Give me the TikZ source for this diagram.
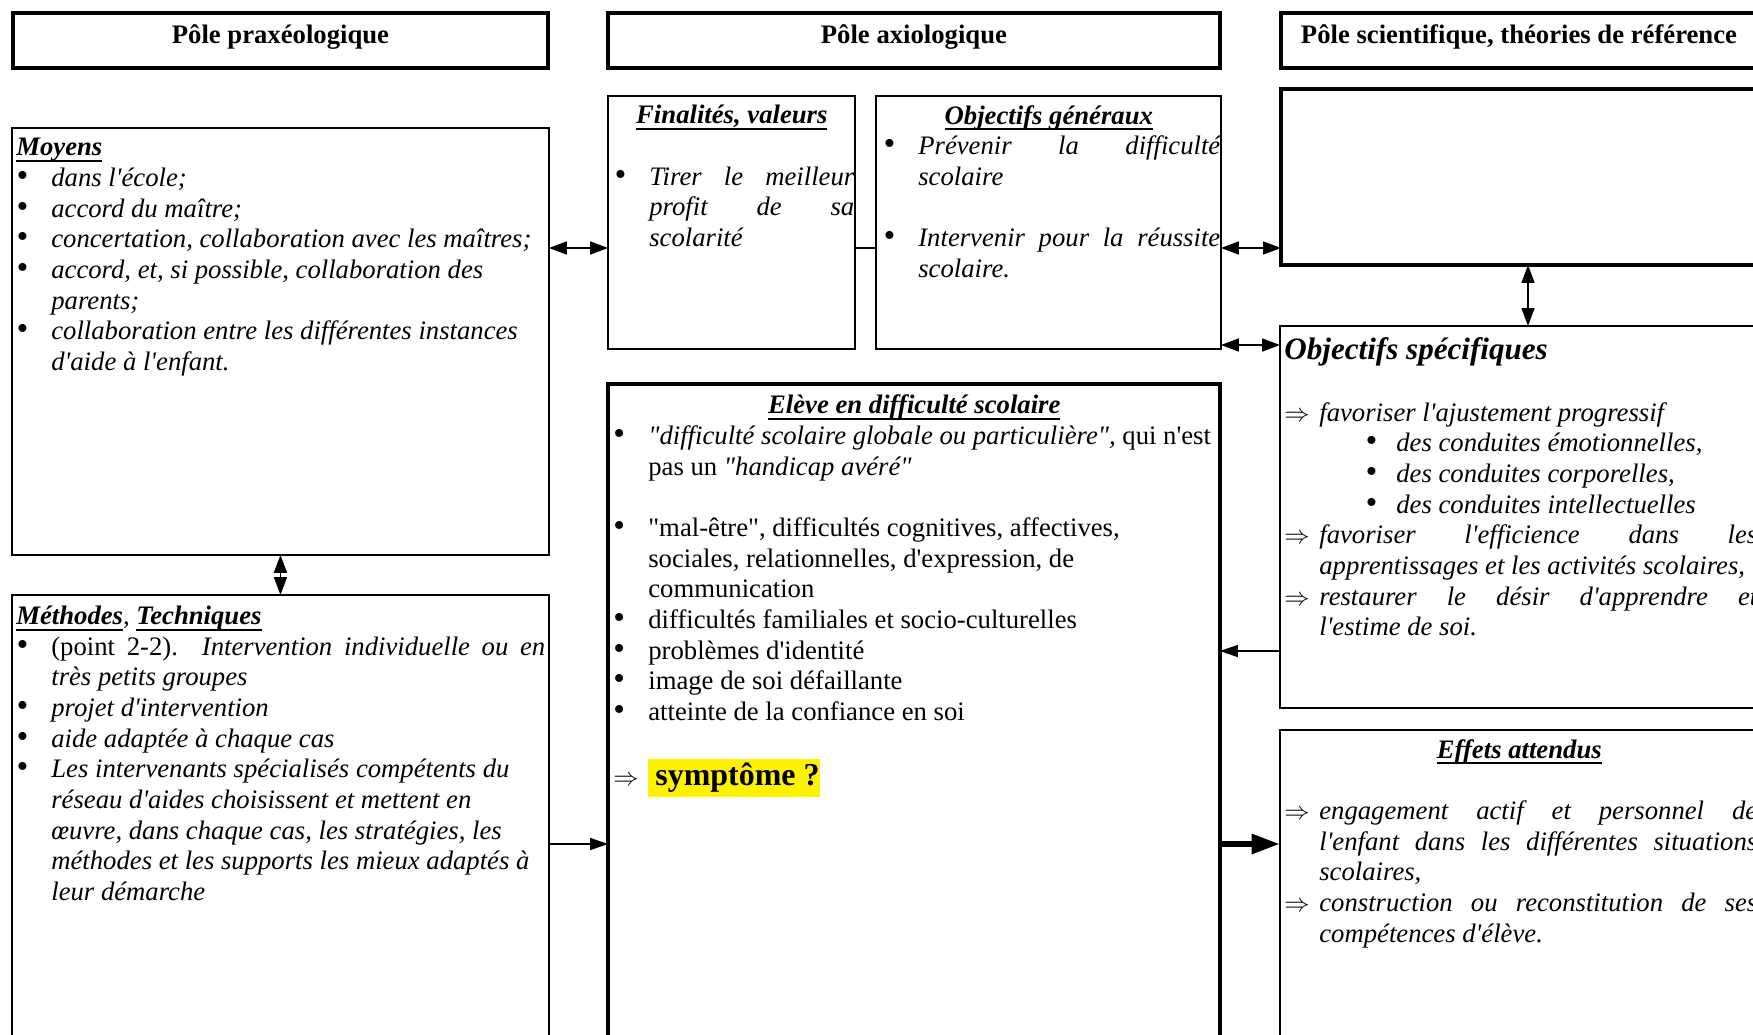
\documentclass[tikz,border=0pt]{standalone}
\usepackage{fontspec}
\setmainfont{Liberation Serif}[Ligatures=TeXOff]
\usetikzlibrary{arrows.meta, positioning}

\newcommand{\normsz}{\fontsize{15.19pt}{17.47pt}\selectfont}
\newlength{\bulw}
\setlength{\bulw}{0.7cm}
\newsavebox{\ttlbox}
\newcommand{\bigbul}{{\fontsize{19pt}{17.47pt}\selectfont\textbullet}}
\newcommand{\itbul}{\makebox[\bulw][l]{\bigbul}}
\newcommand{\itarr}{\makebox[\bulw][l]{$\Rightarrow$}}
\newcommand{\itind}{\hspace*{\bulw}}
\newcommand{\subbul}{\hspace*{0.92cm}\makebox[0.62cm][l]{\bigbul}}
\newcommand{\jline}[2]{\makebox[#1][s]{#2}}
\newcommand{\uttl}[1]{\sbox{\ttlbox}{\textbf{\textit{#1}}}\rlap{\rule[-3.5pt]{\wd\ttlbox}{1.1pt}}\usebox{\ttlbox}}
\newcommand{\hlbox}[1]{{\setlength{\fboxsep}{0pt}\colorbox{yellow}{#1}}}

\begin{document}
\begin{tikzpicture}[x=0.02cm, y=-0.02cm, font=\normsz,
  pole/.style={rectangle, draw, line width=2.3pt, anchor=north west, outer sep=0pt, inner sep=0pt,
    minimum height=1.1cm, text height=0.61cm, text depth=0.49cm, font=\normsz\bfseries},
  box/.style={rectangle, draw, line width=1.1pt, anchor=north west, outer sep=0pt},
  thickbox/.style={box, line width=2.3pt},
  txt/.style={inner sep=0pt, align=left, execute at begin node=\strut},
  dbl/.style={{Triangle[length=0.36cm, width=0.26cm]}-{Triangle[length=0.36cm, width=0.26cm]}, line width=0.9pt},
  arrow/.style={-{Triangle[length=0.36cm, width=0.24cm]}, line width=0.9pt},
  bigarrow/.style={-{Triangle[length=0.57cm, width=0.38cm]}, line width=3.4pt}
]
\useasboundingbox (0,0) rectangle (1753,1034);
\clip (0,0) rectangle (1753,1034);

\node[pole, minimum width=10.70cm] (pp) at (13,13) {Pôle praxéologique};
\node[pole, minimum width=12.24cm] (pa) at (608,13) {Pôle axiologique};
\node[pole, minimum width=9.52cm] (ps) at (1281,13) {Pôle scientifique, théories de référence};

\node[box, minimum width=10.74cm, minimum height=8.54cm] (moy) at (12,128) {};
\node[box, minimum width=4.94cm, minimum height=5.06cm] (fin) at (608,96) {};
\node[box, minimum width=6.90cm, minimum height=5.06cm] (obg) at (876,96) {};
\node[thickbox, minimum width=9.52cm, minimum height=3.52cm] (theo) at (1281,89) {};
\node[box, minimum width=9.54cm, minimum height=7.64cm] (obs) at (1280,326) {};
\node[thickbox, minimum width=12.24cm, minimum height=13.6cm] (elv) at (608,384) {};
\node[box, minimum width=10.74cm, minimum height=10cm] (meth) at (12,595) {};
\node[box, minimum width=9.54cm, minimum height=8cm] (eff) at (1280,730) {};

\node[txt, font=\normsz\itshape, below right=0.2cm and 0.08cm of moy.north west] (moyT) {%
  \uttl{Moyens}\\
  \itbul dans l'école;\\
  \itbul accord du maître;\\
  \itbul concertation, collaboration avec les maîtres;\\
  \itbul accord, et, si possible, collaboration des\\
  \itind parents;\\
  \itbul collaboration entre les différentes instances\\
  \itind d'aide à l'enfant.};

\node[txt, font=\normsz\itshape, below right=0.18cm and 0.12cm of fin.north west] (finT) {%
  \makebox[4.7cm][c]{\uttl{Finalités, valeurs}}\\
  \mbox{}\\
  \itbul\jline{4.1cm}{Tirer le meilleur}\\
  \itind\jline{4.1cm}{profit de sa}\\
  \itind scolarité};

\node[txt, font=\normsz\itshape, below right=0.18cm and 0.14cm of obg.north west] (obgT) {%
  \makebox[6.62cm][c]{\uttl{Objectifs généraux}}\\
  \itbul\jline{6.04cm}{Prévenir la difficulté}\\
  \itind scolaire\\
  \mbox{}\\
  \itbul\jline{6.04cm}{Intervenir pour la réussite}\\
  \itind scolaire.};

\node[txt, below right=0.21cm and 0.1cm of elv.north west] (elvT) {%
  \makebox[12.04cm][c]{\uttl{Elève en difficulté scolaire}}\\
  \itbul\textit{"difficulté scolaire globale ou particulière",} qui n'est\\
  \itind pas un \textit{"handicap avéré"}\\
  \mbox{}\\
  \itbul "mal-être", difficultés cognitives, affectives,\\
  \itind sociales, relationnelles, d'expression, de\\
  \itind communication\\
  \itbul difficultés familiales et socio-culturelles\\
  \itbul problèmes d'identité\\
  \itbul image de soi défaillante\\
  \itbul atteinte de la confiance en soi\\
  \mbox{}\\[0.08cm]
  \itarr\hlbox{\fontsize{18.2pt}{21.8pt}\selectfont\bfseries\strut\hspace{0.14cm}symptôme ?}};

\node[txt, font=\normsz\itshape, below right=0.21cm and 0.08cm of meth.north west] (methT) {%
  \uttl{Méthodes}{\upshape\mdseries,} \uttl{Techniques}\\
  \itbul\jline{9.88cm}{{\upshape(point 2-2).} Intervention individuelle ou en}\\
  \itind très petits groupes\\
  \itbul projet d'intervention\\
  \itbul aide adaptée à chaque cas\\
  \itbul Les intervenants spécialisés compétents du\\
  \itind réseau d'aides choisissent et mettent en\\
  \itind œuvre, dans chaque cas, les stratégies, les\\
  \itind méthodes et les supports les mieux adaptés à\\
  \itind leur démarche};

\node[txt, font=\normsz\itshape, below right=0.23cm and 0.08cm of obs.north west] (obsT) {%
  {\fontsize{17.7pt}{17.47pt}\selectfont\bfseries Objectifs spécifiques}\\
  \mbox{}\\
  \itarr favoriser l'ajustement progressif\\
  \itind\subbul des conduites émotionnelles,\\
  \itind\subbul des conduites corporelles,\\
  \itind\subbul des conduites intellectuelles\\
  \itarr\jline{8.76cm}{favoriser l'efficience dans les}\\
  \itind apprentissages et les activités scolaires,\\
  \itarr\jline{8.76cm}{restaurer le désir d'apprendre et}\\
  \itind l'estime de soi.};

\node[txt, font=\normsz\itshape, below right=0.18cm and 0.08cm of eff.north west] (effT) {%
  \makebox[9.4cm][c]{\uttl{Effets attendus}}\\
  \mbox{}\\
  \itarr\jline{8.76cm}{engagement actif et personnel de}\\
  \itind\jline{8.76cm}{l'enfant dans les différentes situations}\\
  \itind scolaires,\\
  \itarr\jline{8.76cm}{construction ou reconstitution de ses}\\
  \itind compétences d'élève.};

\coordinate (r1) at (0,248);
\coordinate (r2) at (0,345);
\coordinate (r3) at (1528,0);
\coordinate (r5) at (0,844);
\coordinate (r6) at (0,651);

\draw[dbl] (moy.east |- r1) -- (fin.west |- r1);
\draw[line width=0.9pt] (fin.east |- r1) -- (obg.west |- r1);
\draw[dbl] (obg.east |- r1) -- (theo.west |- r1);
\draw[dbl] (obg.east |- r2) -- (obs.west |- r2);
\draw[dbl] (theo.south -| r3) -- (obs.north -| r3);
\draw[dbl] (moy.south) -- (meth.north);
\draw[arrow] (meth.east |- r5) -- (elv.west |- r5);
\draw[arrow] (obs.west |- r6) -- (elv.east |- r6);
\draw[bigarrow] (elv.east |- r5) -- (eff.west |- r5);

\end{tikzpicture}
\end{document}
